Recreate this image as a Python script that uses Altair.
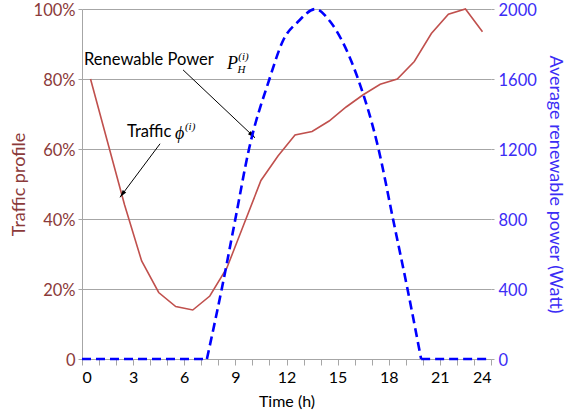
import altair as alt
import pandas as pd

# ---- data ----
traffic_t = [0.5, 1.5, 2.5, 3.5, 4.5, 5.5, 6.5, 7.5, 8.5, 9.5, 10.5, 11.5,
             12.5, 13.5, 14.5, 15.5, 16.5, 17.5, 18.5, 19.5, 20.5, 21.5, 22.5, 23.5]
traffic_v = [0.80, 0.62, 0.44, 0.28, 0.19, 0.15, 0.14, 0.18, 0.26, 0.385, 0.51, 0.58,
             0.64, 0.65, 0.68, 0.72, 0.755, 0.785, 0.80, 0.85, 0.93, 0.985, 1.00, 0.935]

# renewable power: flat night parts and the daytime hump
flat_t = [0, 7.33, 19.9, 24]
flat_v = [0, 0, 0, 0]
flat_seg = ["am", "am", "pm", "pm"]
hump_t = [7.33, 8.2, 9.0, 9.8, 11.0, 11.8, 12.7, 13.7, 14.55,
          15.25, 16.2, 17.4, 18.25, 19.1, 19.9]
hump_v = [0, 400, 800, 1200, 1600, 1820, 1930, 2000, 1930,
          1820, 1600, 1200, 800, 400, 0]

x_ticks = list(range(0, 25))
left_ticks = [0, 0.2, 0.4, 0.6, 0.8, 1.0]
right_ticks = [0, 400, 800, 1200, 1600, 2000]

# annotation texts (positions in data units: hours, traffic fraction)
label_text = ["Renewable Power", "Traffic"]
label_t = [0.12, 2.64]
label_v = [0.854, 0.649]
sym_text = ["P", "ϕ"]
sym_t = [8.51, 5.46]
sym_v = [0.844, 0.643]
sup_text = ["(i)", "(i)", "H"]
sup_t = [9.17, 6.04, 9.12]
sup_v = [0.862, 0.664, 0.826]

arrow_t = [5.93, 4.58]
arrow_v = [0.826, 0.615]
arrow_t2 = [10.15, 2.23]
arrow_v2 = [0.632, 0.462]
arrow_ang = [133, 216]

BROWN = "#8B3A3A"
BLUE_TXT = "#3B2CF5"
RED = "#C0504D"
BLUE = "#0000FF"
GRID = "#A6A6A6"
FONT = "Lato"

traffic_df = pd.DataFrame({"t": traffic_t, "v": traffic_v})
flat_df = pd.DataFrame({"t": flat_t, "p": flat_v, "seg": flat_seg})
hump_df = pd.DataFrame({"t": hump_t, "p": hump_v})
label_df = pd.DataFrame({"t": label_t, "v": label_v, "txt": label_text})
sym_df = pd.DataFrame({"t": sym_t, "v": sym_v, "txt": sym_text})
sup_df = pd.DataFrame({"t": sup_t, "v": sup_v, "txt": sup_text})
arrow_df = pd.DataFrame({"t": arrow_t2, "v": arrow_v2, "ts": arrow_t, "vs": arrow_v, "ang": arrow_ang})

xscale = alt.Scale(domain=[0, 24], nice=False)
yscale = alt.Scale(domain=[0, 1], nice=False)
pscale = alt.Scale(domain=[0, 2000], nice=False)

x_axis = alt.Axis(
    values=x_ticks,
    labelExpr="datum.value % 3 == 0 ? datum.label : ''",
    title="Time (h)", titleFont=FONT, titleFontSize=16, titleFontWeight="normal",
    titleColor="#000000", titlePadding=8,
    labelFont=FONT, labelFontSize=16, labelColor="#000000", labelPadding=4,
    domainColor=GRID, tickColor=GRID, tickSize=6, grid=False,
)
left_axis = alt.Axis(
    values=left_ticks, orient="left",
    labelExpr="datum.value == 0 ? '0' : format(datum.value, '.0%')",
    title="Traffic profile", titleFont=FONT, titleFontSize=18, titleFontWeight="normal",
    titleColor=BROWN, titlePadding=5,
    labelFont=FONT, labelFontSize=16.5, labelColor=BROWN, labelPadding=3, labelOffset=1,
    domainColor=GRID, tickColor=GRID, tickSize=4,
    grid=True, gridColor=GRID, gridWidth=1.2,
)
right_axis = alt.Axis(
    values=right_ticks, orient="right", format="d",
    title="Average renewable power (Watt)", titleFont=FONT, titleFontSize=18,
    titleFontWeight="normal", titleColor=BLUE_TXT, titlePadding=9,
    labelFont=FONT, labelFontSize=16.5, labelColor=BLUE_TXT, labelPadding=4, labelOffset=1,
    domain=False, tickColor=GRID, tickSize=3, grid=False,
)

X = alt.X("t:Q", scale=xscale, axis=x_axis)
Y = alt.Y("v:Q", scale=yscale, axis=left_axis)
P = alt.Y("p:Q", scale=pscale, axis=right_axis)

traffic_line = alt.Chart(traffic_df).mark_line(color=RED, strokeWidth=1.6).encode(x=X, y=Y)

labels = alt.Chart(label_df).mark_text(
    align="left", baseline="middle", font=FONT, fontSize=16.5, color="#000000"
).encode(x=X, y=Y, text="txt:N")
syms = alt.Chart(sym_df).mark_text(
    align="left", baseline="middle", font="Liberation Serif", fontStyle="italic",
    fontSize=18, color="#000000"
).encode(x=X, y=Y, text="txt:N")
sups = alt.Chart(sup_df).mark_text(
    align="left", baseline="middle", font="Liberation Serif", fontStyle="italic",
    fontSize=11, color="#000000"
).encode(x=X, y=Y, text="txt:N")
arrow_lines = alt.Chart(arrow_df).mark_rule(color="#000000", strokeWidth=1).encode(
    x=X, y=Y, x2="ts:Q", y2="vs:Q",
)
arrow_heads = alt.Chart(arrow_df).mark_point(
    shape="M0,0 L-0.45,1.6 L0.45,1.6 Z", filled=True, color="#000000", size=90, opacity=1
).encode(x=X, y=Y, angle=alt.Angle("ang:Q", scale=None))

left_layer = alt.layer(traffic_line, labels, syms, sups, arrow_lines, arrow_heads)

flat_line = alt.Chart(flat_df).mark_line(
    color=BLUE, strokeWidth=2.6, strokeDash=[9, 5]
).encode(x=X, y=P, detail="seg:N")
hump_line = alt.Chart(hump_df).mark_line(
    color=BLUE, strokeWidth=2.6, strokeDash=[9, 5], interpolate="monotone"
).encode(x=X, y=P)

right_layer = alt.layer(flat_line, hump_line)

chart = alt.layer(left_layer, right_layer).resolve_scale(y="independent").properties(
    width=409, height=350,
    autosize=alt.AutoSizeParams(type="none"),
    padding={"left": 82, "top": 9, "right": 77, "bottom": 59},
    background="#FFFFFF",
).configure_view(stroke=None)

chart.save("out.html", embed_options={"renderer": "svg", "actions": False})
